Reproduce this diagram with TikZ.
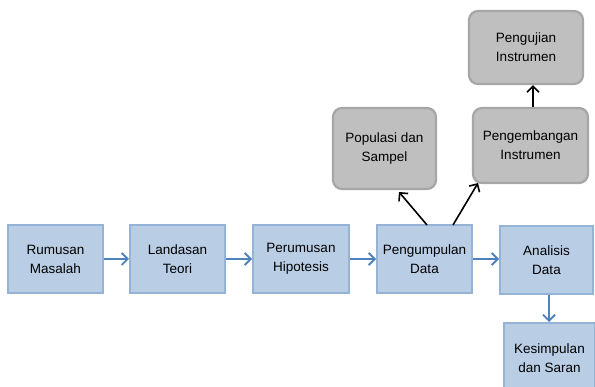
\documentclass[tikz,border=0pt]{standalone}
\usepackage{fontspec}
\setmainfont{Liberation Sans}
\usetikzlibrary{arrows.meta}
\definecolor{bfill}{HTML}{B9CDE5}
\definecolor{bdraw}{HTML}{95B3D7}
\definecolor{barrow}{HTML}{4F81BD}
\definecolor{gfill}{HTML}{BFBFBF}
\definecolor{gdraw}{HTML}{A6A6A6}
\tikzset{
  bluebox/.style={draw=bdraw, fill=bfill, line width=2pt, align=center, font=\fontsize{13.5}{19}\selectfont, inner sep=0pt},
  graybox/.style={draw=gdraw, fill=gfill, line width=2.2pt, rounded corners=9pt, align=center, font=\fontsize{13.5}{19}\selectfont, inner sep=0pt},
  barr/.style={draw=barrow, line width=1.8pt, -{Straight Barb[length=6pt,width=12pt,line width=1.8pt]}},
  karr/.style={draw=black, line width=1.6pt, -{Straight Barb[length=6pt,width=12pt,line width=1.6pt]}}
}
\begin{document}
\begin{tikzpicture}[x=1pt,y=-1pt]
\useasboundingbox (0,0) rectangle (595,387);
\clip (0,0) rectangle (595,387);
\node[bluebox, minimum width=95pt, minimum height=68pt] (rm) at (55.5,259) {Rumusan\\Masalah};
\node[bluebox, minimum width=95pt, minimum height=68pt] (lt) at (177.5,259) {Landasan\\Teori};
\node[bluebox, minimum width=96pt, minimum height=68pt] (ph) at (301,259) {Perumusan\\Hipotesis};
\node[bluebox, minimum width=95pt, minimum height=68pt] (pd) at (424.5,259) {Pengumpulan\\Data};
\node[bluebox, minimum width=93pt, minimum height=68pt] (ad) at (546.5,260) {Analisis\\Data};
\node[bluebox, minimum width=91pt, minimum height=70pt] (ks) at (549.5,358) {Kesimpulan\\dan Saran};
\node[graybox, minimum width=103pt, minimum height=81pt] (ps) at (384.5,148.5) {Populasi dan\\Sampel};
\node[graybox, minimum width=115pt, minimum height=75pt] (pi) at (530.5,145.5) {Pengembangan\\Instrumen};
\node[graybox, minimum width=114pt, minimum height=73pt] (ui) at (526,47.5) {Pengujian\\Instrumen};
\draw[barr] (rm.east) -- (lt.west);
\draw[barr] (lt.east) -- (ph.west);
\draw[barr] (ph.east) -- (pd.west);
\draw[barr] (pd.east) -- (ad.west |- pd.east);
\draw[barr] (ad.south -| 549,0) -- (ks.north -| 549,0);
\coordinate (t1) at (427,225);
\coordinate (t2) at (453,225);
\coordinate (h1) at (399,192);
\coordinate (h2) at (478,183);
\draw[karr] (t1) -- (h1);
\draw[karr] (t2) -- (h2);
\draw[karr] (pi.north -| 533,0) -- (ui.south -| 533,0);
\end{tikzpicture}
\end{document}
